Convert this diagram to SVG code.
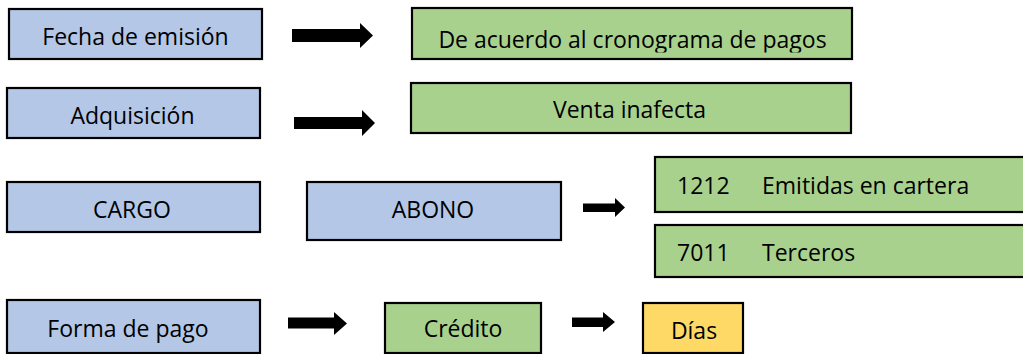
<svg xmlns="http://www.w3.org/2000/svg" width="1023" height="354" viewBox="0 0 1023 354">
<style>
.box{stroke:#000;stroke-width:2.2}
.blue{fill:#B4C7E7}
.green{fill:#A9D18E}
.yellow{fill:#FFD966}
.t{font-family:"Open Sans","Liberation Sans",sans-serif;font-size:23px;fill:#000}
.c{text-anchor:middle}
.arrow{fill:#000}
</style>
<defs>
<clipPath id="clipDe"><rect x="412" y="8" width="440" height="44.5"/></clipPath>
</defs>
<rect width="1023" height="354" fill="#fff"/>
<g id="n-fecha"><rect class="box blue" x="9" y="9" width="253" height="50"/><text class="t c" x="135.5" y="45">Fecha de emisión</text></g>
<g id="n-adquisicion"><rect class="box blue" x="7" y="88" width="253" height="50"/><text class="t c" x="132.5" y="124">Adquisición</text></g>
<g id="n-acuerdo"><rect class="box green" x="412" y="8" width="440" height="51"/><text class="t c" x="632.5" y="48" clip-path="url(#clipDe)">De acuerdo al cronograma de pagos</text></g>
<g id="n-venta"><rect class="box green" x="411" y="83" width="440" height="50"/><text class="t c" x="629.5" y="118">Venta inafecta</text></g>
<g id="n-cargo"><rect class="box blue" x="7" y="182" width="253" height="50"/><text class="t c" x="132" y="218">CARGO</text></g>
<g id="n-abono"><rect class="box blue" x="307" y="182" width="254" height="58"/><text class="t c" x="433" y="218">ABONO</text></g>
<g id="n-1212"><rect class="box green" x="655" y="157" width="372" height="55"/><text class="t" x="677" y="194">1212</text><text class="t" x="762" y="194">Emitidas en cartera</text></g>
<g id="n-7011"><rect class="box green" x="655" y="225" width="372" height="52"/><text class="t" x="677" y="261">7011</text><text class="t" x="762" y="261">Terceros</text></g>
<g id="n-forma"><rect class="box blue" x="7" y="300" width="253" height="53"/><text class="t c" x="128" y="337">Forma de pago</text></g>
<g id="n-credito"><rect class="box green" x="385" y="303" width="156" height="50"/><text class="t c" x="463" y="337">Crédito</text></g>
<g id="n-dias"><rect class="box yellow" x="643" y="303" width="100" height="50"/><text class="t c" x="694" y="339">Días</text></g>
<g id="connectors">
<polygon class="arrow" points="292,29 360,29 360,23 373,35.5 360,48 360,42 292,42"/>
<polygon class="arrow" points="294,117 362,117 362,110 375,123 362,136 362,129 294,129"/>
<polygon class="arrow" points="583,203.5 615,203.5 615,198 625,207.5 615,217 615,212 583,212"/>
<polygon class="arrow" points="288,317.5 334,317.5 334,312 347,323.5 334,335 334,328.5 288,328.5"/>
<polygon class="arrow" points="572,317.5 603,317.5 603,312 615,322 603,332 603,327 572,327"/>
</g>
</svg>
